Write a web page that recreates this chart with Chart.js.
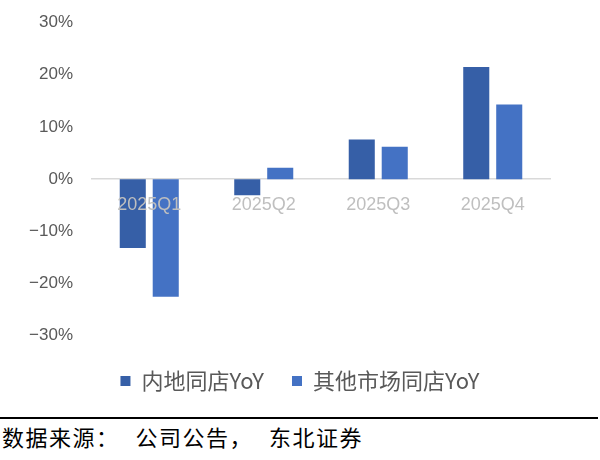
<!DOCTYPE html>
<html><head><meta charset="utf-8">
<script src="https://cdn.jsdelivr.net/npm/chart.js@4"></script>
<style>
html,body{margin:0;padding:0;background:#fff;width:600px;height:460px;overflow:hidden}
#wrap{position:absolute;left:0;top:0;width:600px;height:416px}
#rule{position:absolute;left:0;top:417px;width:598px;height:0;border-top:2.5px solid #000}
#src{position:absolute;left:2px;top:422px;font-family:"Noto Sans CJK SC";font-size:22px;line-height:28px;letter-spacing:1.5px;color:#000;white-space:nowrap}
#src span.g{margin-left:16px}
</style></head><body>
<div id="wrap"><canvas id="c" width="600" height="416"></canvas></div>
<div id="rule"></div>
<div id="src"><span>数据来源：</span><span class="g">公司公告，</span><span class="g">东北证券</span></div>
<script>
const categories = ['2025Q1', '2025Q2', '2025Q3', '2025Q4'];
const mainlandSSSG = [-13.2, -3.1, 7.6, 21.5];
const otherMarketsSSSG = [-22.5, 2.2, 6.2, 14.3];
const seriesNames = ['内地同店YoY', '其他市场同店YoY'];
const yMin = -30, yMax = 30, yStep = 10;

const fmtPct = v => (v < 0 ? '\u2212' : '') + Math.abs(v) + '%';

// let the y tick labels extend into the left margin without being clipped
const yLabelRoom = { id: 'yLabelRoom', afterLayout(chart) { chart.scales.y.left = 0; } };

new Chart(document.getElementById('c'), {
  type: 'bar',
  data: {
    labels: categories,
    datasets: [
      { label: seriesNames[0], data: mainlandSSSG, backgroundColor: '#365FA7', borderWidth: 0,
        categoryPercentage: 0.576, barPercentage: 0.79 },
      { label: seriesNames[1], data: otherMarketsSSSG, backgroundColor: '#4472C4', borderWidth: 0,
        categoryPercentage: 0.576, barPercentage: 0.79 }
    ]
  },
  plugins: [yLabelRoom],
  options: {
    responsive: false,
    animation: false,
    devicePixelRatio: 1,
    layout: { padding: { left: 50, right: 50, top: 22.5, bottom: 14 } },
    scales: {
      y: {
        min: yMin, max: yMax,
        ticks: { stepSize: yStep, callback: v => fmtPct(v), color: '#595959', padding: 19,
          font: { family: '"Liberation Sans", Arial, sans-serif', size: 17 } },
        grid: { display: false, drawTicks: false },
        border: { display: false },
        afterFit: s => { s.width = 42; s.paddingTop = 0; s.paddingBottom = 0; }
      },
      x: {
        position: { y: 0 },
        ticks: { z: 1, color: '#BFBFBF', padding: 15, maxRotation: 0,
          font: { family: '"Liberation Sans", Arial, sans-serif', size: 18 } },
        grid: { display: false, drawTicks: false },
        border: { display: true, color: '#D9D9D9', width: 1.5 }
      }
    },
    plugins: {
      tooltip: { enabled: false },
      legend: {
        position: 'bottom',
        title: { display: true, text: ' ', font: { size: 1 }, padding: { top: 0, bottom: 5 } },
        labels: { boxWidth: 10, boxHeight: 10, padding: 28, color: '#595959',
          font: { family: '"Noto Sans CJK SC", sans-serif', size: 22 } }
      }
    }
  }
});
</script>
</body></html>
